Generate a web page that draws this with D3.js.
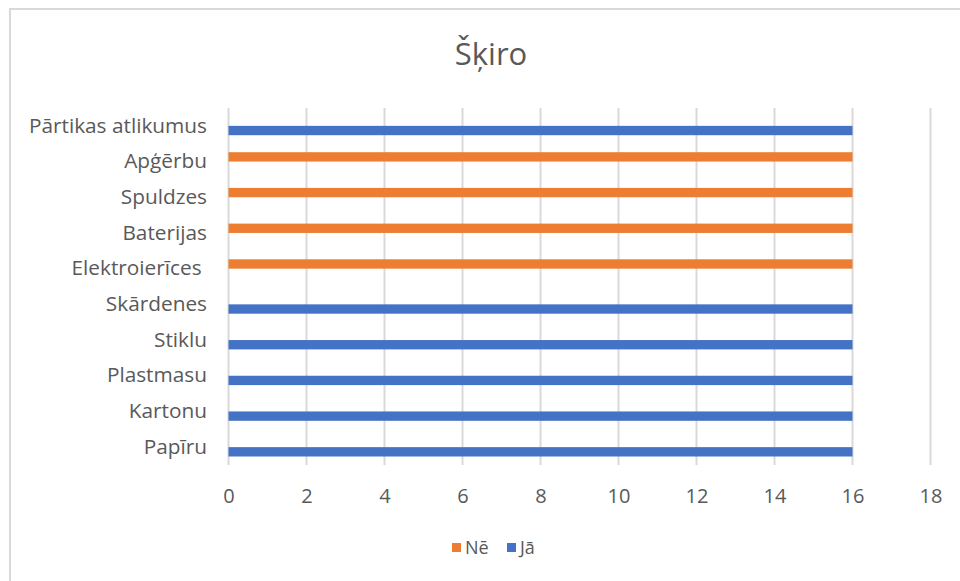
<!DOCTYPE html>
<html><head><meta charset="utf-8">
<script src="https://cdn.jsdelivr.net/npm/d3@7"></script>
<style>body{margin:0;background:#fff}text{font-family:"Open Sans",sans-serif;fill:#595959}</style>
</head><body>
<svg id="c" width="960" height="581"></svg>
<script>
const categories = ["Papīru","Kartonu","Plastmasu","Stiklu","Skārdenes","Elektroierīces ","Baterijas","Spuldzes","Apģērbu","Pārtikas atlikumus"];
const seriesNames = ["Nē","Jā"];
const neValues = [0,0,0,0,0,16,16,16,16,0];
const jaValues = [16,16,16,16,16,0,0,0,0,16];
const xTicks = [0,2,4,6,8,10,12,14,16,18];
const colors = {"Nē":"#ED7D31","Jā":"#4472C4"};
const title = "Šķiro";

const svg = d3.select("#c");
svg.append("rect").attr("x",10).attr("y",9).attr("width",1000).attr("height",600)
  .attr("fill","#fff").attr("stroke","#d9d9d9").attr("stroke-width",2);

const L=228.5, R=930.5, T=108, B=465;
const x = d3.scaleLinear().domain([0,18]).range([L,R]);
const pi = 1 - 2/3.82;
const y = d3.scaleBand().domain(categories.slice().reverse()).range([T,B]).paddingInner(pi).paddingOuter(pi/2);
const ys = d3.scaleBand().domain(seriesNames).range([0,y.bandwidth()]);

const g = svg.append("g");
g.selectAll("line.grid").data(xTicks).join("line").attr("class","grid")
  .attr("x1",d=>x(d)).attr("x2",d=>x(d)).attr("y1",T).attr("y2",B)
  .attr("stroke","#d9d9d9").attr("stroke-width",2);

const rows = categories.map((c,i)=>({c, vals:[{s:"Nē",v:neValues[i]},{s:"Jā",v:jaValues[i]}]}));
const rg = g.selectAll("g.row").data(rows).join("g").attr("class","row")
  .attr("transform",d=>`translate(0,${y(d.c)})`);
rg.selectAll("rect").data(d=>d.vals.filter(v=>v.v>0)).join("rect")
  .attr("x",x(0)).attr("y",d=>ys(d.s)).attr("width",d=>x(d.v)-x(0)).attr("height",ys.bandwidth())
  .attr("fill",d=>colors[d.s]);

// category labels
const yAxis = d3.axisLeft(y).tickSize(0).tickPadding(0);
const ya = svg.append("g").attr("transform",`translate(207,0)`).call(yAxis);
ya.select(".domain").remove();
ya.selectAll("text").style("white-space","pre").attr("font-size",20.8).style("font-family","'Open Sans'").attr("fill","#595959");

// x tick labels
const xAxis = d3.axisBottom(x).tickValues(xTicks).tickSize(0).tickPadding(0);
const xa = svg.append("g").attr("transform",`translate(0,${B+24})`).call(xAxis);
xa.select(".domain").remove();
xa.selectAll("text").attr("font-size",20).style("font-family","'Open Sans'").attr("fill","#595959");

svg.append("text").attr("x",491).attr("y",65).attr("text-anchor","middle")
  .attr("font-size",31).text(title);

const lg = svg.append("g");
const lx = [452,507];
seriesNames.forEach((s,i)=>{
  lg.append("rect").attr("x",lx[i]).attr("y",543).attr("width",9).attr("height",9).attr("fill",colors[s]);
  lg.append("text").attr("x",lx[i]+13).attr("y",554).attr("font-size",18).text(s);
});
</script>
</body></html>
